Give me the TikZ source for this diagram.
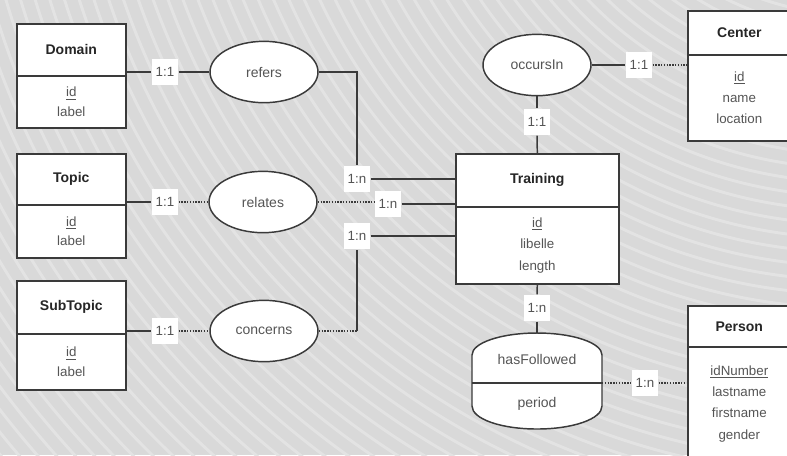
\documentclass[tikz,border=0pt]{standalone}
\usepackage{fontspec}
\setmainfont{Liberation Sans}
\usetikzlibrary{shapes.geometric}

\definecolor{bg}{HTML}{D9D9D9}
\definecolor{stripe}{HTML}{E3E3E3}
\definecolor{edge}{HTML}{3A3A3A}
\definecolor{ink}{HTML}{555555}
\definecolor{titleink}{HTML}{262626}

\begin{document}
\begin{tikzpicture}[x=0.75pt,y=-0.75pt,
  ent/.style={draw=edge, fill=white, line width=1.2pt, rectangle, inner sep=0pt, anchor=north west},
  enttitle/.style={font=\fontsize{10.5}{12}\selectfont\bfseries, text=titleink},
  attrs/.style={font=\fontsize{10}{14.5}\selectfont, text=ink, align=center},
  attrswide/.style={font=\fontsize{10}{16}\selectfont, text=ink, align=center},
  rel/.style={ellipse, draw=edge, fill=white, line width=1.1pt, minimum width=81pt,
              minimum height=46pt, inner sep=0pt, font=\fontsize{10.5}{12}\selectfont, text=ink},
  relname/.style={font=\fontsize{10.5}{12}\selectfont, text=ink, inner sep=0pt},
  card/.style={fill=white, inner sep=0pt, minimum width=20pt, minimum height=20pt,
               font=\fontsize{10}{12}\selectfont, text=ink},
  link/.style={draw=edge, line width=1.1pt},
  dotlink/.style={draw=edge, line width=1.1pt, densely dotted},
]
% background with faint curved stripes
\fill[bg] (0,0) rectangle (787,455);
\begin{scope}
  \clip (0,0) rectangle (787,455);
  \foreach \r in {250,264,...,1400}
    \draw[stripe, line width=2.2pt] (850,-250) circle[radius=\r];
\end{scope}
\useasboundingbox (0,0) rectangle (787,455);

\begin{scope}
\clip (0,0) rectangle (787,455);

% entities on the left
\node[ent, enttitle, minimum width=81.75pt, minimum height=39pt] (domT) at (16,23) {Domain};
\node[ent, attrs, minimum width=81.75pt, minimum height=39pt] (domA) at (16,75) {\underline{id}\\label};

\node[ent, enttitle, minimum width=81.75pt, minimum height=38.25pt] (topT) at (16,153) {Topic};
\node[ent, attrs, minimum width=81.75pt, minimum height=39.75pt] (topA) at (16,204) {\underline{id}\\label};

\node[ent, enttitle, minimum width=81.75pt, minimum height=39.75pt] (subT) at (16,280) {SubTopic};
\node[ent, attrs, minimum width=81.75pt, minimum height=42pt] (subA) at (16,333) {\underline{id}\\label};

% central entity
\node[ent, enttitle, minimum width=122.25pt, minimum height=39.75pt] (traT) at (455,153) {Training};
\node[ent, attrswide, minimum width=122.25pt, minimum height=57.75pt] (traA) at (455,206) {\underline{id}\\libelle\\length};

% entities on the right
\node[ent, enttitle, minimum width=77.25pt, minimum height=33pt] (cenT) at (687,10) {Center};
\node[ent, attrswide, minimum width=77.25pt, minimum height=64.5pt] (cenA) at (687,54) {\underline{id}\\name\\location};

\node[ent, enttitle, minimum width=77.25pt, minimum height=30.75pt] (perT) at (687,305) {Person};
\node[ent, attrswide, minimum width=77.25pt, minimum height=85.5pt] (perA) at (687,346) {\underline{idNumber}\\lastname\\firstname\\gender};

% relationships
\node[rel] (refers) at (264,72) {refers};
\node[rel] (relates) at (263,202) {relates};
\node[rel] (concerns) at (264,331) {concerns};
\node[rel] (occurs) at (537,65) {occursIn};

% relationship with an attribute
\coordinate (hasTop) at (537,333);
\coordinate (hasBot) at (537,429);
\coordinate (hasDivL) at (472,383);
\coordinate (hasDivR) at (602,383);
\draw[draw=edge, fill=white, line width=1.1pt]
  (472,355) .. controls (472,342.8) and (501.1,333) .. (hasTop)
  .. controls (572.9,333) and (602,342.8) .. (602,355)
  -- (602,406) .. controls (602,419) and (572.9,429) .. (hasBot)
  .. controls (501.1,429) and (472,419) .. (472,406) -- cycle;
\draw[link] (hasDivL) -- (hasDivR);
\node[relname] (hasName) at (537,359) {hasFollowed};
\node[relname] (hasAttr) at (537,404) {period};

% cardinality labels
\node[card] (lDom) at (165,72) {1:1};
\node[card] (lTop) at (165,202) {1:1};
\node[card] (lSub) at (165,331) {1:1};
\node[card] (lN1) at (357,179) {1:n};
\node[card] (lN2) at (388,204) {1:n};
\node[card] (lN3) at (357,236) {1:n};
\node[card] (lOcc1) at (639,65) {1:1};
\node[card] (lOcc2) at (537,122) {1:1};
\node[card] (lHas1) at (537,308) {1:n};
\node[card] (lHas2) at (645,383) {1:n};

% connectors
\draw[link] (lDom.west -| domT.east) -- (lDom.west);
\draw[link] (lDom.east) -- (refers.west);
\draw[link] (refers.east) -| (lN1.north);
\draw[link] (lN1.east) -- (lN1.east -| traT.west);

\draw[link] (lTop.west -| topT.east) -- (lTop.west);
\draw[dotlink] (lTop.east) -- (relates.west);
\draw[dotlink] (relates.east) -- (relates.east -| lN2.west);
\draw[link] (lN2.east) -- (lN2.east -| traT.west);

\draw[link] (lSub.west -| subT.east) -- (lSub.west);
\draw[dotlink] (lSub.east) -- (concerns.west);
\draw[dotlink] (concerns.east) -- (concerns.east -| lN3.south) coordinate (cBend);
\draw[link] (cBend) -- (lN3.south);
\draw[link] (lN3.east) -- (lN3.east -| traT.west);

\draw[link] (occurs.east) -- (lOcc1.west);
\draw[dotlink] (lOcc1.east) -- (lOcc1.east -| cenT.west);
\draw[link] (occurs.south) -- (lOcc2.north);
\draw[link] (lOcc2.south) -- (traT.north);

\draw[link] (traA.south) -- (lHas1.north);
\draw[link] (lHas1.south) -- (hasTop);
\draw[dotlink] (hasDivR) -- (lHas2.west);
\draw[dotlink] (lHas2.east) -- (lHas2.east -| perA.west);
\end{scope}
\end{tikzpicture}
\end{document}
